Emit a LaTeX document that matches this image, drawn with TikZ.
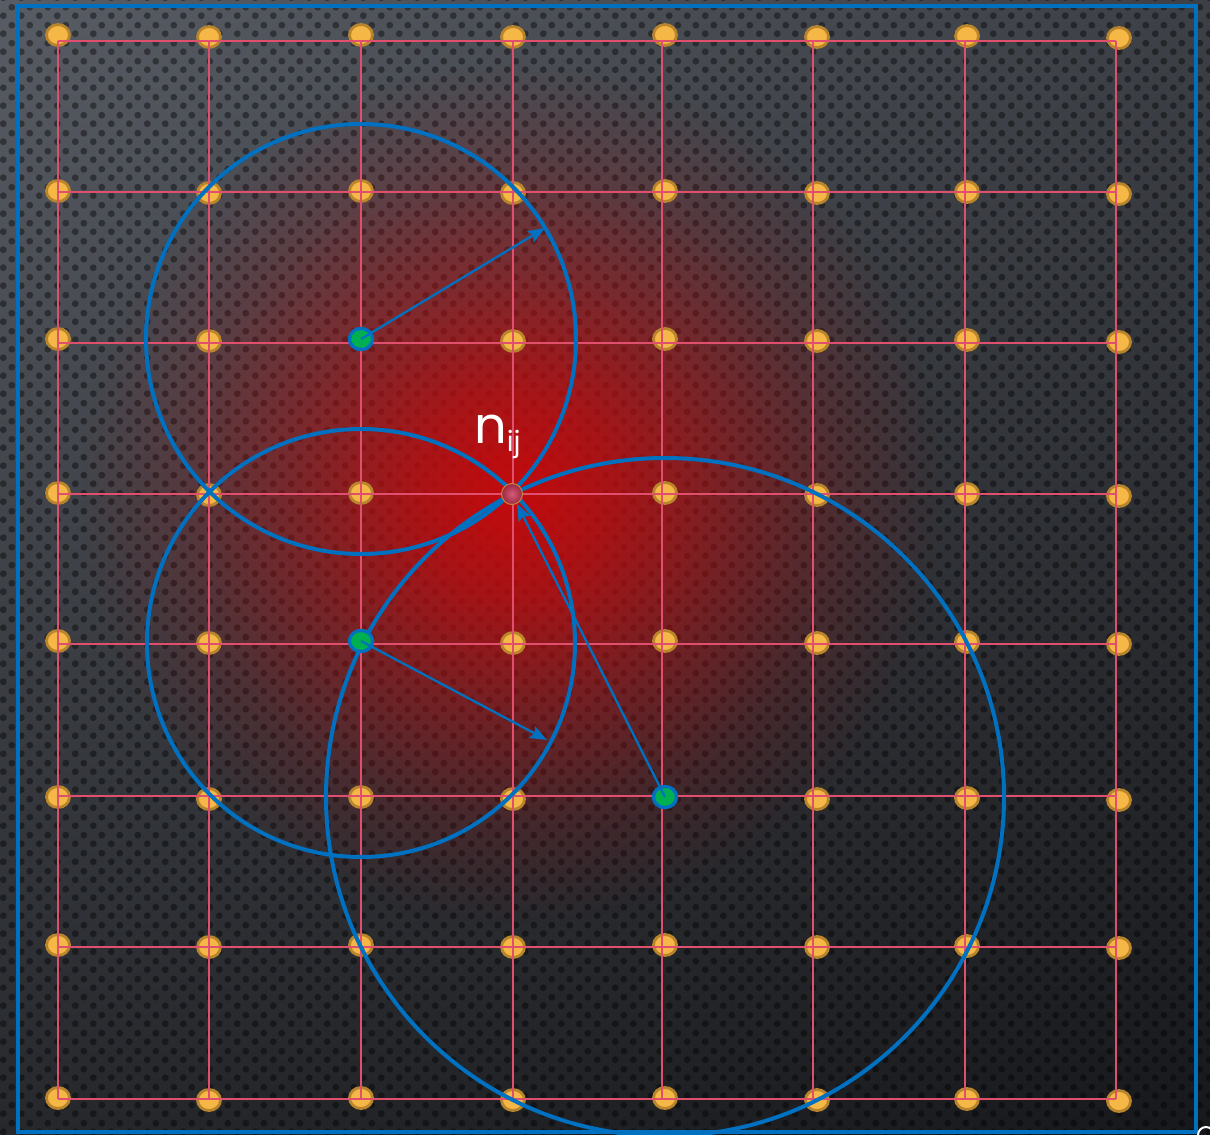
\documentclass[tikz,border=0pt]{standalone}
\usepackage{fontspec}
\newfontfamily\labfont{Poppins}
\usetikzlibrary{patterns,fadings,shadings,arrows.meta,shapes.geometric}
\definecolor{bgUL}{HTML}{585C64}
\definecolor{bgUR}{HTML}{3D4046}
\definecolor{bgLL}{HTML}{26282C}
\definecolor{bgLR}{HTML}{17181B}
\definecolor{glowred}{RGB}{196,10,12}
\definecolor{gridpink}{HTML}{E0506E}
\definecolor{nodeorange}{HTML}{F5B746}
\definecolor{nodeedge}{HTML}{B8842C}
\definecolor{mblue}{HTML}{0070C0}
\definecolor{mgreen}{HTML}{00B050}
\definecolor{ballin}{HTML}{D45C7A}
\definecolor{ballout}{HTML}{9C2842}
\definecolor{balledge}{HTML}{C8873A}
\pgfdeclarepatternformonly{bgdots}{\pgfqpoint{0pt}{0pt}}{\pgfqpoint{18pt}{18pt}}{\pgfqpoint{18pt}{18pt}}{%
  \pgfpathcircle{\pgfqpoint{4.5pt}{4.5pt}}{3.6pt}%
  \pgfpathcircle{\pgfqpoint{13.5pt}{13.5pt}}{3.6pt}%
  \pgfusepath{fill}}
\pgfdeclareradialshading{glowshade}{\pgfpointorigin}{color(0bp)=(white); color(6bp)=(white!78!black); color(12.5bp)=(white!45!black); color(19bp)=(white!16!black); color(25bp)=(black); color(50bp)=(black)}
\pgfdeclarefading{glowfade}{\pgfuseshading{glowshade}}
\tikzset{
  gridline/.style={draw=gridpink, line width=1.5pt},
  onode/.style={ellipse, minimum width=23pt, minimum height=21pt, inner sep=0pt, fill=nodeorange, draw=nodeedge, line width=2.8pt},
  gnode/.style={ellipse, minimum width=23pt, minimum height=21pt, inner sep=0pt, fill=mgreen, draw=mblue, line width=3.2pt},
  bnode/.style={circle, minimum size=21pt, inner sep=0pt, inner color=ballin, outer color=ballout, draw=balledge, line width=1pt},
  bluecirc/.style={draw=mblue, line width=4pt},
  arr/.style={draw=mblue, line width=2.3pt, -{Stealth[length=17pt,width=13pt,inset=3pt]}},
  frame/.style={draw=mblue, line width=4pt},
  lab/.style={text=white, font=\labfont\fontsize{51}{55}\selectfont, inner sep=0pt, anchor=base west}
}
\begin{document}
\begin{tikzpicture}[x=1pt,y=-1pt]
\useasboundingbox (0,0) rectangle (1210,1135);
% background
\shade[upper left=bgUL, upper right=bgUR, lower left=bgLL, lower right=bgLR] (0,0) rectangle (1210,1135);
\fill[pattern=bgdots, pattern color=black, opacity=0.4] (0,0) rectangle (1210,1135);
\coordinate (ctr) at (512,494);
\fill[glowred, path fading=glowfade] (ctr) circle[radius=430pt];
% orange grid nodes
\foreach \yb [count=\r from 0] in {35,191,339,493,641,797,945,1098}{
  \foreach \xb/\dy [count=\c from 0] in {58/0,209/2,361/0,513/2,665/0,817/2,967/1,1119/3}{
    \pgfmathtruncatemacro{\skipme}{(\r*10+\c==22)||(\r*10+\c==33)||(\r*10+\c==42)||(\r*10+\c==54)}
    \ifnum\skipme=0
      \node[onode] (o\r\c) at (\xb,\yb+\dy) {};
    \fi
  }
}
% grid lines
\foreach \yy in {41,192,343,494,644,796,947,1099}{
  \draw[gridline] (58,\yy) -- (1116,\yy);
}
\foreach \xx in {58,209,361,513,662,813,965,1116}{
  \draw[gridline] (\xx,41) -- (\xx,1099);
}
% special nodes
\node[gnode] (g1) at (361,339) {};
\node[gnode] (g2) at (361,641) {};
\node[gnode] (g3) at (665,797) {};
% circles
\draw[bluecirc] (g1.center) circle[radius=215pt];
\draw[bluecirc] (g2.center) ++(0,2) circle[radius=214pt];
\draw[bluecirc] (g3.center) circle[radius=339pt];
\node[gnode] at (g1) {};
\node[gnode] at (g2) {};
\node[gnode] at (g3) {};
\node[bnode] (nij) at (ctr) {};
% arrows
\coordinate (t1) at (545,228);
\coordinate (t2) at (547,740);
\draw[arr] (g1.center) -- (t1);
\draw[arr] (g2.center) -- (t2);
\draw[arr] (g3.center) -- (nij);
% label
\node[lab] (nlab) at (474,443) {n\raisebox{-8pt}{\fontsize{28}{30}\selectfont ij}};
% frame
\draw[frame] (18,6) rectangle (1196,1132);
\draw[white, line width=2pt] (1198,1135) arc[start angle=180, end angle=0, radius=8pt];
\end{tikzpicture}
\end{document}
